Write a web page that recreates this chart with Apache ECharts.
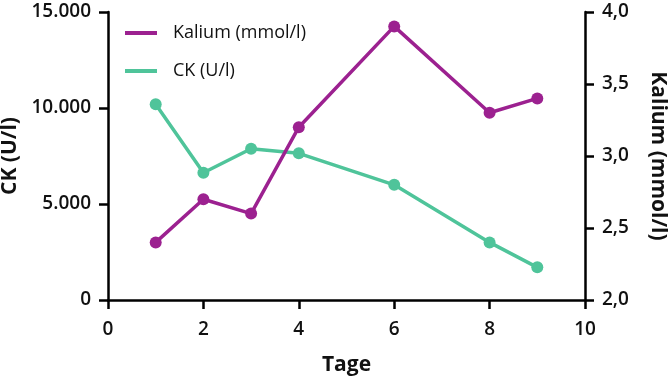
<!DOCTYPE html>
<html>
<head>
<meta charset="utf-8">
<script src="https://cdn.jsdelivr.net/npm/echarts@6/dist/echarts.min.js"></script>
<style>
    html, body { margin: 0; padding: 0; background: #fff; }
    #chart { width: 669px; height: 379px; }
</style>
</head>
<body>
<div id="chart"></div>
<script>
// Messwerte
const tage = [1, 2, 3, 4, 6, 8, 9]
const kalium = [2.4, 2.7, 2.6, 3.2, 3.9, 3.3, 3.4]
const ck = [10200, 6630, 7880, 7640, 6000, 3000, 1700]

const lila = "#9c2190"
const gruen = "#4fc49a"
const font = "Open Sans"

var myChart = echarts.init(document.getElementById("chart"))

const axisCommon = {
    axisLine: { show: true, lineStyle: { color: "#000", width: 2.5 } },
    axisTick: { show: true, length: 9, lineStyle: { color: "#000", width: 2.5 } },
    splitLine: { show: false },
    axisLabel: { color: "#111", fontFamily: font, fontWeight: 600, fontSize: 19 },
    nameTextStyle: { color: "#111", fontFamily: font, fontWeight: "bold", fontSize: 21 },
}

myChart.setOption({
    animation: false,
    grid: { left: 108, right: 84, top: 12, bottom: 79, containLabel: false, outerBoundsMode: "none" },
    legend: {
        data: ["Kalium (mmol/l)", "CK (U/l)"],
        orient: "vertical",
        left: 120,
        top: 19,
        icon: "rect",
        itemWidth: 32,
        itemHeight: 4,
        itemGap: 20,
        textStyle: { color: "#111", fontFamily: font, fontSize: 18, padding: [0, 0, 0, 11] },
    },
    xAxis: {
        type: "value",
        min: 0,
        max: 10,
        interval: 2,
        name: "Tage",
        nameLocation: "middle",
        nameGap: 55,
        ...axisCommon,
        axisLabel: { ...axisCommon.axisLabel, margin: 20 },
    },
    yAxis: [
        {
            type: "value",
            min: 0,
            max: 15000,
            interval: 5000,
            name: "CK (U/l)",
            nameLocation: "middle",
            nameGap: 80,
            ...axisCommon,
            axisLabel: {
                ...axisCommon.axisLabel,
                margin: 17,
                formatter: (v) => v.toLocaleString("de-DE"),
            },
        },
        {
            type: "value",
            position: "right",
            min: 2,
            max: 4,
            interval: 0.5,
            name: "Kalium (mmol/l)",
            nameLocation: "middle",
            nameRotate: -90,
            nameGap: 62,
            ...axisCommon,
            axisLabel: {
                ...axisCommon.axisLabel,
                margin: 17,
                formatter: (v) => v.toFixed(1).replace(".", ","),
            },
        },
    ],
    series: [
        {
            name: "CK (U/l)",
            type: "line",
            yAxisIndex: 0,
            data: tage.map((t, i) => [t, ck[i]]),
            symbol: "circle",
            symbolSize: 12,
            lineStyle: { color: gruen, width: 3.5 },
            itemStyle: { color: gruen },
        },
        {
            name: "Kalium (mmol/l)",
            type: "line",
            yAxisIndex: 1,
            data: tage.map((t, i) => [t, kalium[i]]),
            symbol: "circle",
            symbolSize: 12,
            lineStyle: { color: lila, width: 3.5 },
            itemStyle: { color: lila },
        },
    ],
})
</script>
</body>
</html>
